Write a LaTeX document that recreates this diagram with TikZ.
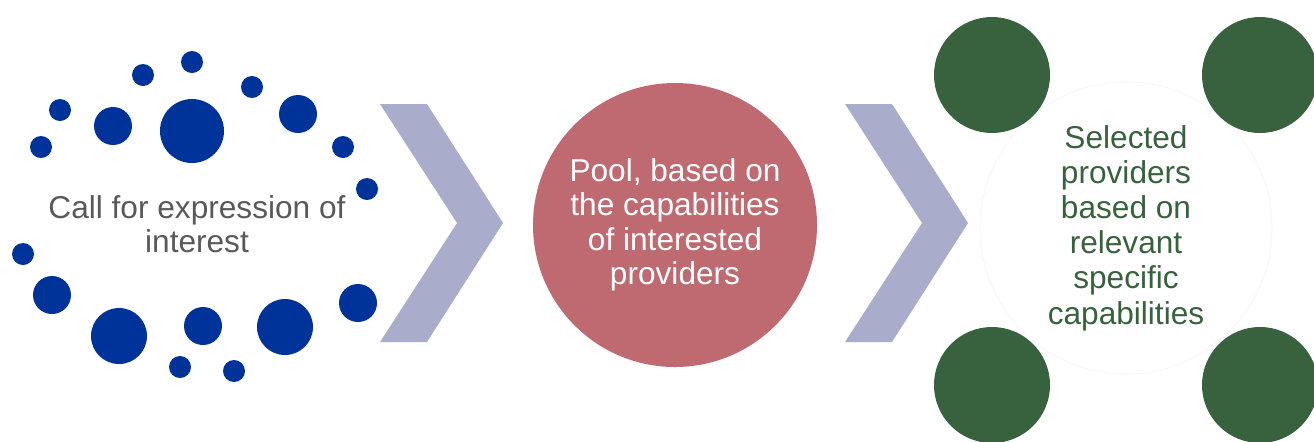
\documentclass[tikz,border=0pt]{standalone}
\usepackage{fontspec}
\setmainfont{Liberation Sans}
\usepackage{tikz}
\usetikzlibrary{calc}
\definecolor{dotblue}{HTML}{003399}
\definecolor{poolred}{HTML}{BE6A70}
\definecolor{selgreen}{HTML}{37623D}
\definecolor{chevgray}{HTML}{A9ACCA}
\definecolor{txtgray}{HTML}{595959}

\begin{document}
\begin{tikzpicture}[x=0.02cm,y=-0.02cm,
  lbl/.style={align=center, font=\fontsize{18}{19.6}\selectfont},
  chev/.style={fill=chevgray, draw=none}]
\useasboundingbox (0,0) rectangle (1314,441);
\clip (0,0) rectangle (1314,441);
% dots round the call
\foreach \x/\y/\r in {192/62/11, 143/75/11, 252/87/11, 60/110/11, 113/126/19,
  192/131/32, 298/114/19, 41/147/11, 343/147/11, 367/189/11, 23/254/11,
  52/295/19, 119/336/28, 203/326/19, 285/327/28, 358/303/19, 180/367/11, 234/371/11}
  \fill[dotblue] (\x,\y) circle[radius=\r*0.02cm];
\node[lbl, text=txtgray] (call) at (197,224) {Call for expression of\\interest};
% chevrons
\coordinate (c1) at (380,104); \coordinate (c2) at (845,104);
\foreach \c in {c1,c2}
  \fill[chev] (\c)--++(47,0)--++(76,119)--++(-76,119)--++(-47,0)--++(77,-119)--cycle;
% pool
\node[circle, fill=poolred, minimum size=284*0.02cm] (pool) at (675,225) {};
\node[lbl, text=white] (pooltxt) at (pool.center) {Pool, based on\\the capabilities\\of interested\\providers};
% selected
\coordinate (sel) at (1126,228);
\draw[gray!8] (sel) circle[radius=146*0.02cm];
\foreach \x/\y in {992/75, 1260/75, 992/385, 1260/385}
  \fill[selgreen] (\x,\y) circle[radius=58*0.02cm];
\node[lbl, text=selgreen, font=\fontsize{18}{20}\selectfont] (seltxt) at (sel) {Selected\\providers\\based on\\relevant\\specific\\capabilities};
\end{tikzpicture}
\end{document}
